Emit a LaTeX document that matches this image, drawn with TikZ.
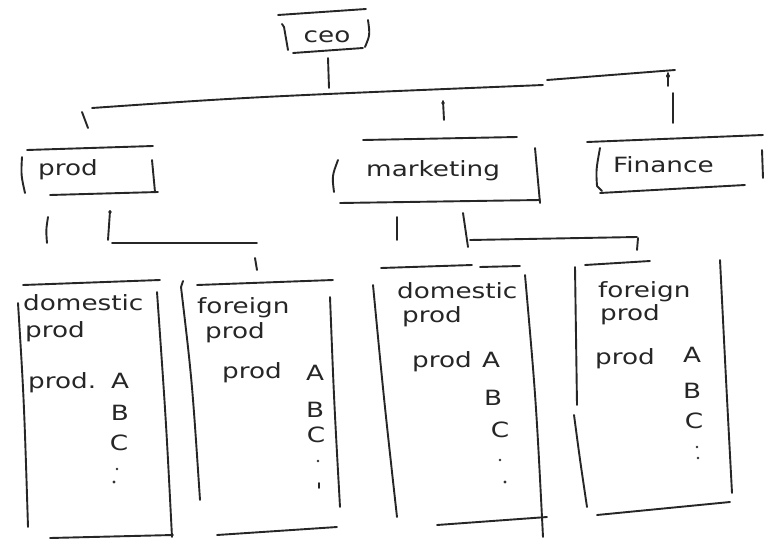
\documentclass[tikz,border=0pt]{standalone}
\usepackage{fontspec}
\newfontfamily\handfont[FakeStretch=1.25]{DejaVu Sans}
\begin{document}
\begin{tikzpicture}[x=1pt,y=-1pt,
  pen/.style={line width=1.9pt, line cap=round, line join=round, draw=black!85},
  hw/.style={font=\handfont\fontsize{21}{24}\selectfont, inner sep=0pt, text=black!85},
  lbl/.style={hw, anchor=base west},
  itm/.style={hw, anchor=base},
  dotmark/.style={fill=black!80, draw=none}]
\useasboundingbox[fill=white] (0,0) rectangle (778,551);

% ---------- CEO ----------
\draw[pen] (278,15) -- (366,9);
\draw[pen] (282,24) -- (284,27) -- (288,50);
\draw[pen] (293,53) -- (363,48);
\draw[pen] (368,20) .. controls (370,35) .. (365,47);
\node[itm] (ceo) at (327,43) {ceo};

% ---------- first level bar ----------
\draw[pen] (328,58) -- (329,88);
\draw[pen] (92,108) .. controls (250,97) .. (543,85);
\draw[pen] (547,80) -- (675,70);
\draw[pen] (82,112) -- (88,128);
\draw[pen] (443,101) -- (444,120);
\fill[black!85] (443,103) circle (1.8);
\draw[pen] (668,73) -- (668,86);
\fill[black!85] (668,76) circle (2);
\draw[pen] (673,93) -- (673,123);

% ---------- prod ----------
\draw[pen] (27,150) -- (153,146);
\draw[pen] (22,157) .. controls (21,175) .. (25,193);
\draw[pen] (152,160) -- (155,192);
\draw[pen] (50,195) -- (158,192);
\node[lbl] (prod) at (38,175) {prod};

% ---------- marketing ----------
\draw[pen] (363,140) -- (517,137);
\draw[pen] (338,160) .. controls (332,176) .. (334,192);
\draw[pen] (535,148) -- (540,203);
\draw[pen] (340,203) -- (540,200);
\node[lbl] (mkt) at (366,176) {marketing};

% ---------- Finance ----------
\draw[pen] (587,142) -- (763,135);
\draw[pen] (600,148) .. controls (596,170) .. (597,186) -- (602,191);
\draw[pen] (600,193) -- (745,185);
\draw[pen] (762,150) -- (763,178);
\node[lbl] (fin) at (613,172) {Finance};

% ---------- branch under prod ----------
\draw[pen] (48,217) .. controls (46,230) .. (47,243);
\draw[pen] (110,211) -- (108,240);
\fill[black!85] (110,212) circle (1.8);
\draw[pen] (112,243) -- (257,243);
\draw[pen] (255,258) -- (257,270);

% ---------- branch under marketing ----------
\draw[pen] (397,217) -- (397,240);
\draw[pen] (463,213) -- (468,247);
\draw[pen] (470,240) -- (637,237);
\draw[pen] (638,238) -- (637,250);

% ---------- column 1: domestic prod ----------
\draw[pen] (23,285) -- (160,280);
\draw[pen] (18,303) .. controls (24,400) .. (28,527);
\draw[pen] (157,292) .. controls (166,420) .. (172,537);
\draw[pen] (50,538) -- (173,535);
\node[lbl] (d1) at (23,310) {domestic};
\node[lbl] (d1p) at (25,337) {prod};
\node[lbl] (d1l) at (28,388) {prod.};
\node[itm] (d1a) at (120,388) {A};
\node[itm] (d1b) at (120,420) {B};
\node[itm] (d1c) at (119,450) {C};
\fill[dotmark] (117,469) circle (1.4) (114,482) circle (1.7);

% ---------- column 2: foreign prod ----------
\draw[pen] (197,285) -- (333,280);
\draw[pen] (183,281) -- (181,287) .. controls (192,380) .. (200,500);
\draw[pen] (330,297) .. controls (334,400) .. (340,507);
\draw[pen] (217,535) -- (337,527);
\node[lbl] (f1) at (197,313) {foreign};
\node[lbl] (f1p) at (205,338) {prod};
\node[lbl] (f1l) at (222,378) {prod};
\node[itm] (f1a) at (315,380) {A};
\node[itm] (f1b) at (315,417) {B};
\node[itm] (f1c) at (316,442) {C};
\fill[dotmark] (318,461) circle (1.4);
\draw[pen] (319,483) -- (319,488);

% ---------- column 3: domestic prod ----------
\draw[pen] (381,268) -- (472,265);
\draw[pen] (480,267) -- (520,266);
\draw[pen] (373,285) .. controls (384,400) .. (397,517);
\draw[pen] (525,275) .. controls (536,400) .. (543,537);
\draw[pen] (437,525) -- (547,517);
\node[lbl] (d2) at (397,298) {domestic};
\node[lbl] (d2p) at (402,322) {prod};
\node[lbl] (d2l) at (412,367) {prod};
\node[itm] (d2a) at (491,367) {A};
\node[itm] (d2b) at (493,405) {B};
\node[itm] (d2c) at (500,437) {C};
\fill[dotmark] (500,460) circle (1.3) (505,482) circle (1.7);

% ---------- column 4: foreign prod ----------
\draw[pen] (585,265) -- (650,261);
\draw[pen] (575,267) -- (577,405);
\draw[pen] (574,415) .. controls (580,460) .. (587,507);
\draw[pen] (720,260) .. controls (726,380) .. (732,493);
\draw[pen] (597,515) -- (730,502);
\node[lbl] (f2) at (598,297) {foreign};
\node[lbl] (f2p) at (600,320) {prod};
\node[lbl] (f2l) at (595,364) {prod};
\node[itm] (f2a) at (692,362) {A};
\node[itm] (f2b) at (692,398) {B};
\node[itm] (f2c) at (694,428) {C};
\fill[dotmark] (697,447) circle (1.3) (698,458) circle (1.3);
\end{tikzpicture}
\end{document}
